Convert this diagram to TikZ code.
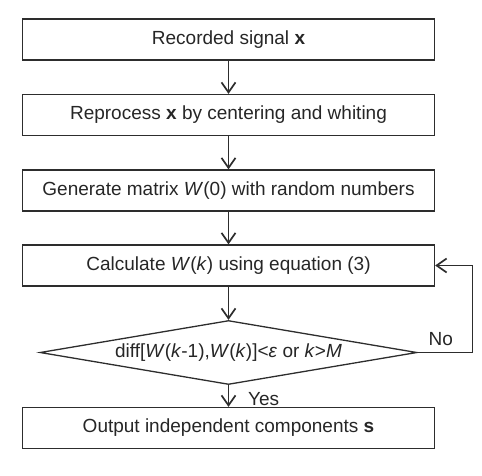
\documentclass[tikz,border=0pt]{standalone}
\usepackage{fontspec}
\setmainfont{Liberation Sans}
\usetikzlibrary{shapes.geometric, arrows.meta}
\definecolor{linegray}{RGB}{45,45,45}

\tikzset{
  procbox/.style={draw=linegray, line width=1.3pt, minimum width=412pt, minimum height=41pt, inner sep=0pt},
  decision/.style={draw=linegray, line width=1.3pt, diamond, aspect=5.9, minimum width=377pt, minimum height=64pt, inner sep=0pt},
  flowline/.style={draw=linegray, line width=1.3pt, -{Straight Barb[length=10pt, width=14pt, line width=1.7pt]}},
  flowlabel/.style={inner sep=1pt},
}

\begin{document}
\begin{tikzpicture}[x=1pt, y=-1pt, font=\fontsize{19}{23}\selectfont, text=black!85]
\useasboundingbox (0,0) rectangle (482,475);
    \node[procbox] (rec) at (228.5,39.5) {Recorded signal \textbf{x}};
    \node[procbox] (prep) at (228.5,115) {Reprocess \textbf{x} by centering and whiting};
    \node[procbox] (init) at (228.5,190.5) {Generate matrix \textit{W}(0) with random numbers};
    \node[procbox] (calc) at (228.5,265.5) {Calculate \textit{W}(\textit{k}) using equation (3)};
    \node[decision] (check) at (228.5,352.5) {diff[\textit{W}(\textit{k}-1),\textit{W}(\textit{k})]<\textit{ε} or \textit{k}>\textit{M}};
    \node[procbox] (out) at (228.5,428) {Output independent components \textbf{s}};
%main flow
    \draw[flowline] (rec) -- (prep);
    \draw[flowline] (prep) -- (init);
    \draw[flowline] (init) -- (calc);
    \draw[flowline] (calc) -- (check);
    \draw[flowline] (check) -- (out) node[flowlabel, midway, right=18pt, yshift=-3pt] (yes) {Yes};
%loop back
    \draw[flowline] (check.east) -- ++(55,0) node[flowlabel, pos=0.42, above=5pt] (no) {No} |- (calc.east);
  \end{tikzpicture}
\end{document}
